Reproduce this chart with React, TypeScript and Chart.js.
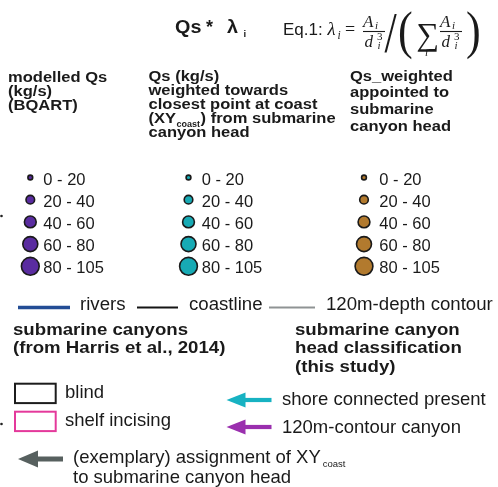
import React, { useEffect, useRef } from "react";
import { Chart, registerables } from "chart.js";

Chart.register(...registerables);

// ---------------- data ----------------
const classLabels = ["0 - 20", "20 - 40", "40 - 60", "60 - 80", "80 - 105"];
const symbolRadius = [2.4, 4.3, 5.9, 7.5, 8.9];
const seriesColors = ["#5a2ca0", "#17aab4", "#b27a2e"];
const header1 = ["modelled Qs", "(kg/s)", "(BQART)"];
const header2 = ["Qs (kg/s)", "weighted towards", "closest point at coast", "(XY", "canyon head"];
const header2Sub = ["coast", ") from submarine"];
const header3 = ["Qs_weighted", "appointed to", "submarine", "canyon head"];
const lineLabels = ["rivers", "coastline", "120m-depth contour"];
const lineColors = ["#234d95", "#151515", "#8f9394"];
const lineWidths = [3.5, 1.8, 1.8];
const canyonHeading = ["submarine canyons", "(from Harris et al., 2014)"];
const canyonLabels = ["blind", "shelf incising"];
const canyonColors = ["#1c1c1c", "#e4399b"];
const headHeading = ["submarine canyon", "head classification", "(this study)"];
const headLabels = ["shore connected present", "120m-contour canyon"];
const headColors = ["#17b2c2", "#9a2fae"];
const assignLabel = ["(exemplary) assignment of XY", "coast", "to submarine canyon head"];
const assignColor = "#57605f";

// ---------------- layout ----------------
const W = 498;
const H = 487;
const colSymbolX = [30.3, 188.5, 364];
const colTextX = [43.3, 201.7, 379.3];
const rowY0 = 177.5;
const rowStep = 22.2;
const lineSegX = [
  [18, 70],
  [137, 178],
  [269, 315],
];
const lineRowY = 307.5;
const lineTextX = [80, 189, 326];
const TEXT = "#1a1a1a";
const SANS = "'Liberation Sans', Arial, sans-serif";
const SERIF = "'Liberation Serif', 'Times New Roman', serif";

function txt(ctx, s, x, y, font, color = TEXT, sx = 1, sy = 1) {
  ctx.save();
  ctx.font = font;
  ctx.fillStyle = color;
  ctx.textAlign = "left";
  ctx.textBaseline = "alphabetic";
  ctx.translate(x, y);
  ctx.scale(sx, sy);
  ctx.fillText(s, 0, 0);
  const w = ctx.measureText(s).width * sx;
  ctx.restore();
  return w;
}

function arrow(ctx, tipX, y, headLen, headHalf, endX, shaftW, color) {
  ctx.save();
  ctx.fillStyle = color;
  ctx.beginPath();
  ctx.moveTo(tipX, y);
  ctx.lineTo(tipX + headLen, y - headHalf);
  ctx.lineTo(tipX + headLen, y + headHalf);
  ctx.closePath();
  ctx.fill();
  ctx.fillRect(tipX + headLen - 1, y - shaftW / 2, endX - (tipX + headLen - 1), shaftW);
  ctx.restore();
}

const legendTextPlugin = {
  id: "legendText",
  afterDatasetsDraw(chart) {
    const ctx = chart.ctx;
    const sx = chart.scales.x;
    const sy = chart.scales.y;
    const X = (v) => sx.getPixelForValue(v);
    const Y = (v) => sy.getPixelForValue(v);

    // ---- title ----
    const bTitle = `bold 18px ${SANS}`;
    txt(ctx, "Qs", X(175), Y(33), bTitle, TEXT, 1.1);
    txt(ctx, "*", X(206), Y(33), bTitle);
    txt(ctx, "λ", X(227), Y(33), bTitle, TEXT, 1.1);
    txt(ctx, "i", X(243.5), Y(37.3), `bold 9.5px ${SANS}`);

    // ---- equation ----
    txt(ctx, "Eq.1:", X(283), Y(35), `17px ${SANS}`);
    const it = (s) => `italic ${s}px ${SERIF}`;
    txt(ctx, "λ", X(327.5), Y(35), it(18.5));
    txt(ctx, "i", X(337.5), Y(38.5), it(11.5));
    txt(ctx, "=", X(345), Y(35), `18px ${SERIF}`);
    const frac = (x0) => {
      txt(ctx, "A", X(x0), Y(26.8), it(17));
      txt(ctx, "i", X(x0 + 12), Y(29), it(11));
      ctx.save();
      ctx.strokeStyle = TEXT;
      ctx.lineWidth = 1.1;
      ctx.beginPath();
      ctx.moveTo(X(x0), Y(31.5));
      ctx.lineTo(X(x0 + 22), Y(31.5));
      ctx.stroke();
      ctx.restore();
      txt(ctx, "d", X(x0 + 1.5), Y(46.5), it(17));
      txt(ctx, "3", X(x0 + 14), Y(40), `11px ${SERIF}`);
      txt(ctx, "i", X(x0 + 14.5), Y(48.5), it(11));
    };
    frac(363);
    txt(ctx, "/", X(384.5), Y(51.5), `40px ${SERIF}`, TEXT, 1.1, 1.45);
    txt(ctx, "(", X(398), Y(48), `52px ${SERIF}`, TEXT, 0.85);
    txt(ctx, "∑", X(416.5), Y(45), `32px ${SERIF}`);
    txt(ctx, "i", X(425), Y(56), it(11));
    frac(440);
    txt(ctx, ")", X(466), Y(48), `52px ${SERIF}`, TEXT, 0.85);

    // ---- column headers ----
    const bH = `bold 14.5px ${SANS}`;
    const hsx = 1.14;
    header1.forEach((s, i) => txt(ctx, s, X(8), Y(81.5 + i * 14), bH, TEXT, hsx));
    header2.forEach((s, i) => {
      const y = 81 + i * 14;
      const w = txt(ctx, s, X(148.5), Y(y), bH, TEXT, hsx);
      if (i === 3) {
        const w2 = txt(ctx, header2Sub[0], X(148.5) + w + 0.5, Y(y + 3.5), `bold 9px ${SANS}`);
        txt(ctx, header2Sub[1], X(148.5) + w + w2 + 1, Y(y), bH, TEXT, hsx);
      }
    });
    header3.forEach((s, i) => txt(ctx, s, X(350), Y(80.7 + i * 16.6), bH, TEXT, hsx));

    // ---- class labels ----
    colTextX.forEach((cx) => {
      classLabels.forEach((lab, i) => {
        txt(ctx, lab, X(cx), Y(rowY0 + rowStep * i + 7), `16.5px ${SANS}`);
      });
    });

    // ---- line legend labels ----
    lineLabels.forEach((lab, i) => txt(ctx, lab, X(lineTextX[i]), Y(310.3), `17.5px ${SANS}`, TEXT, 1.065));

    // ---- section headings ----
    const bS = `bold 16.5px ${SANS}`;
    canyonHeading.forEach((s, i) => txt(ctx, s, X(13), Y(335 + i * 18.3), bS, TEXT, 1.13));
    headHeading.forEach((s, i) => txt(ctx, s, X(295), Y(335 + i * 18.3), bS, TEXT, 1.13));

    // ---- canyon type boxes ----
    const boxY = [383.7, 411.7];
    canyonLabels.forEach((lab, i) => {
      ctx.save();
      ctx.strokeStyle = canyonColors[i];
      ctx.lineWidth = 2;
      ctx.strokeRect(X(15), Y(boxY[i]), X(55.7) - X(15), Y(boxY[i] + 19.4) - Y(boxY[i]));
      ctx.restore();
      txt(ctx, lab, X(65), Y([398.3, 426][i]), `18.5px ${SANS}`);
    });

    // ---- head class arrows ----
    const arrowY = [400, 427];
    headLabels.forEach((lab, i) => {
      arrow(ctx, X(226.5), Y(arrowY[i]), 19, 7.5, X(271.5), 4.2, headColors[i]);
      txt(ctx, lab, X(282), Y([405.3, 433][i]), `18.5px ${SANS}`);
    });

    // ---- assignment arrow ----
    arrow(ctx, X(18), Y(459), 20, 8.5, X(63), 5, assignColor);
    const wA = txt(ctx, assignLabel[0], X(73), Y(462.5), `18.5px ${SANS}`);
    txt(ctx, assignLabel[1], X(73) + wA + 2, Y(467), `9.5px ${SANS}`);
    txt(ctx, assignLabel[2], X(73), Y(482.5), `18.5px ${SANS}`);
  },
};

export default function App() {
  const ref = useRef(null);
  useEffect(() => {
    const bubbleSets = seriesColors.map((color, c) => ({
      type: "bubble",
      label: `series${c}`,
      data: classLabels.map((_, i) => ({ x: colSymbolX[c], y: rowY0 + rowStep * i, r: symbolRadius[i] })),
      backgroundColor: color,
      borderColor: "#1a1a1a",
      borderWidth: 1.6,
    }));
    const lineSets = lineLabels.map((lab, i) => ({
      type: "line",
      label: lab,
      data: lineSegX[i].map((x) => ({ x, y: lineRowY })),
      borderColor: lineColors[i],
      borderWidth: lineWidths[i],
      borderCapStyle: "butt",
      pointRadius: 0,
      fill: false,
    }));
    const dots = {
      type: "scatter",
      label: "dots",
      data: [
        { x: 1.5, y: 216 },
        { x: 1.5, y: 424 },
      ],
      backgroundColor: "#222",
      borderWidth: 0,
      pointRadius: 1.3,
    };
    const chart = new Chart(ref.current, {
      type: "bubble",
      data: { datasets: [...lineSets, ...bubbleSets, dots] },
      options: {
        animation: false,
        responsive: false,
        layout: { padding: 0, autoPadding: false },
        events: [],
        plugins: { legend: { display: false }, tooltip: { enabled: false } },
        scales: {
          x: { type: "linear", min: 0, max: W, display: false },
          y: { type: "linear", min: 0, max: H, reverse: true, display: false },
        },
      },
      plugins: [legendTextPlugin],
    });
    return () => chart.destroy();
  }, []);
  return (
    <div style={{ position: "fixed", left: 0, top: 0, width: W, height: H, background: "#fff" }}>
      <canvas ref={ref} width={W} height={H} style={{ display: "block" }} />
    </div>
  );
}
